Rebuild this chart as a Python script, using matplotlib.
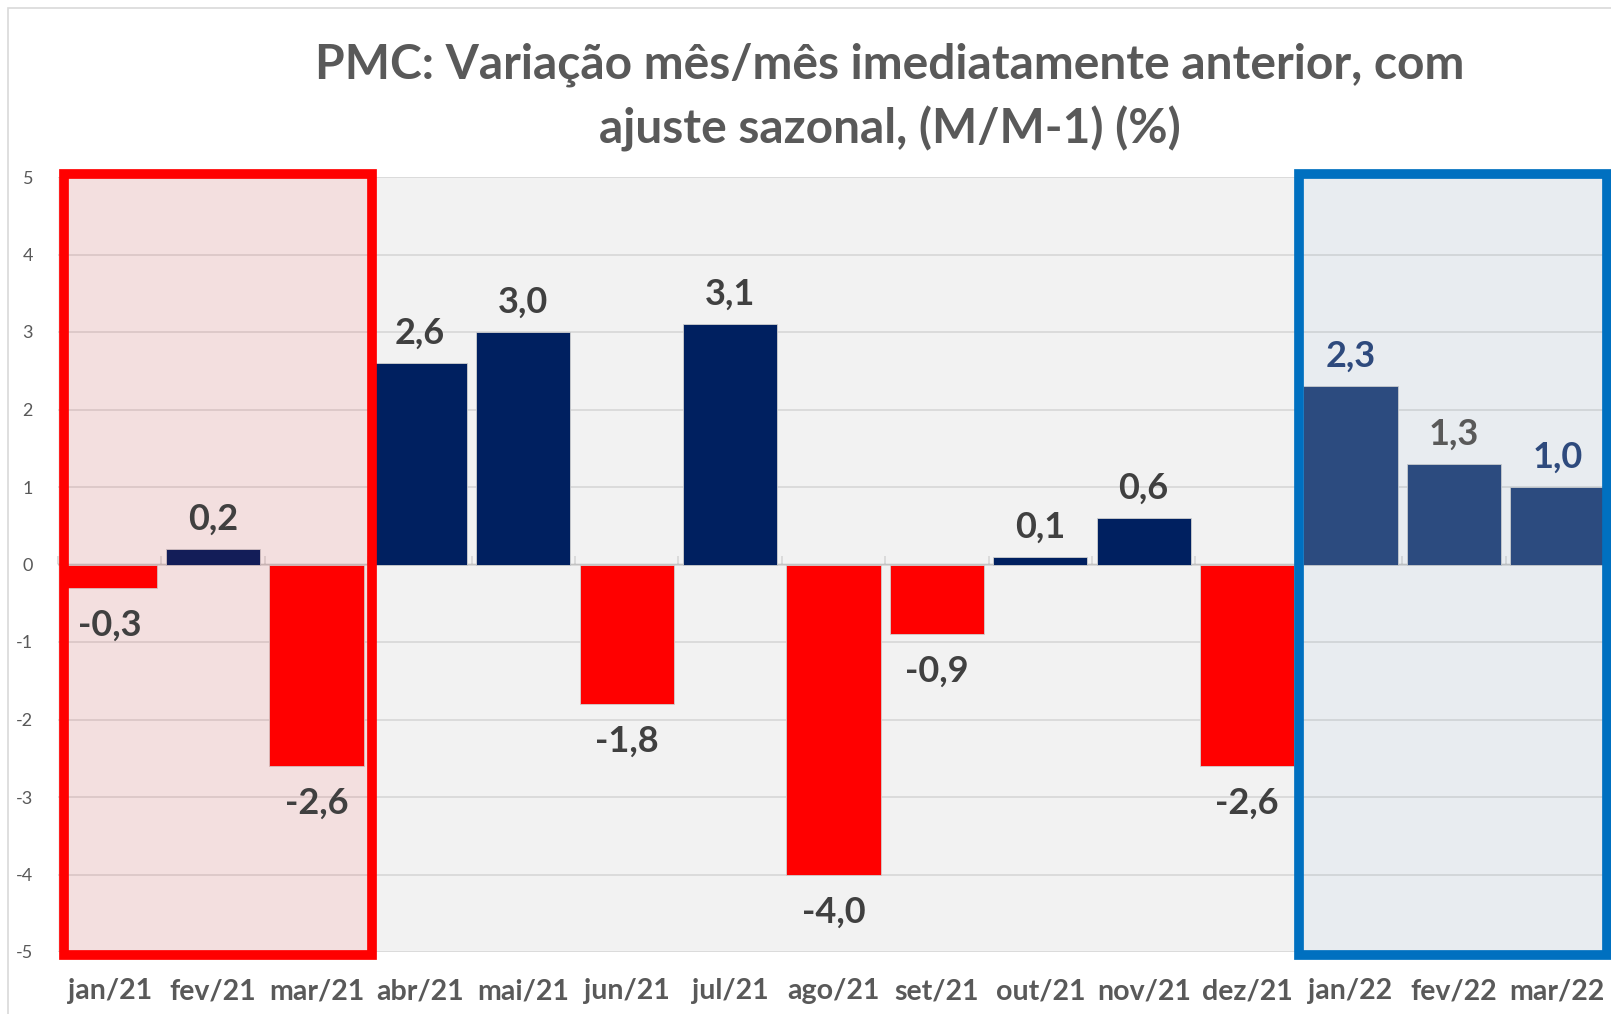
import numpy as np
import matplotlib.pyplot as plt
from matplotlib.patches import Rectangle

# Dados (PMC, variação M/M-1 com ajuste sazonal, %)
meses = ['jan/21', 'fev/21', 'mar/21', 'abr/21', 'mai/21', 'jun/21', 'jul/21', 'ago/21',
         'set/21', 'out/21', 'nov/21', 'dez/21', 'jan/22', 'fev/22', 'mar/22']
variacao = [-0.3, 0.2, -2.6, 2.6, 3.0, -1.8, 3.1, -4.0, -0.9, 0.1, 0.6, -2.6, 2.3, 1.3, 1.0]
destaque_2022 = ['jan/22', 'fev/22', 'mar/22']
yticks = [-5, -4, -3, -2, -1, 0, 1, 2, 3, 4, 5]

titulo = 'PMC: Variação mês/mês imediatamente anterior, com\najuste sazonal, (M/M-1) (%)'

plt.rcParams['font.family'] = ['Lato', 'DejaVu Sans']
plt.rcParams['axes.unicode_minus'] = False

# cores
VERMELHO = '#FF0000'
MARINHO = '#002060'
AZUL22 = '#2E4A7D'
CINZA_TXT = '#595959'
ROTULO = '#404040'

fig = plt.figure(figsize=(16.11, 10.14), dpi=100)
ax = fig.add_axes([58 / 1611, 62 / 1014, (1609 - 58) / 1611, 775 / 1014])
ax.set_facecolor('#F2F2F2')

x = np.arange(len(meses))
cores = []
for m, v in zip(meses, variacao):
    if v < 0:
        cores.append(VERMELHO)
    elif m in destaque_2022:
        cores.append(AZUL22)
    else:
        cores.append(MARINHO)

ax.bar(x, variacao, width=0.91, color=cores, edgecolor='#D0D0D0', linewidth=0.6, zorder=2)

# rótulos de dados
cor_rotulo = {'jan/22': AZUL22, 'fev/22': CINZA_TXT, 'mar/22': AZUL22}
for xi, m, v in zip(x, meses, variacao):
    txt = f'{v:.1f}'.replace('.', ',')
    c = cor_rotulo.get(m, ROTULO)
    if v >= 0:
        ax.annotate(txt, (xi, v), xytext=(0, 14), textcoords='offset points',
                    ha='center', va='baseline', fontsize=26, fontweight='bold', color=c, zorder=5)
    else:
        ax.annotate(txt, (xi, v), xytext=(0, -15), textcoords='offset points',
                    ha='center', va='top', fontsize=26, fontweight='bold', color=c, zorder=5)

ax.set_xlim(-0.5, len(meses) - 0.5)
ax.set_ylim(-5, 5)
ax.set_yticks(yticks)
ax.set_yticklabels([str(t) for t in yticks])
ax.set_xticks(x)
ax.set_xticklabels(meses, fontsize=20.5, fontweight='bold', color=CINZA_TXT)
ax.tick_params(axis='x', length=0, pad=19)
ax.tick_params(axis='y', length=0, pad=18, labelsize=13, labelcolor=CINZA_TXT)
ax.grid(axis='y', color='#D9D9D9', linewidth=1.3)
ax.set_axisbelow(True)
for s in ax.spines.values():
    s.set_visible(False)

# eixo de categorias em y=0 com marcas entre categorias
eixo0 = ax.secondary_xaxis(0.5)
eixo0.set_xticks(np.arange(len(meses) + 1) - 0.5)
eixo0.set_xticklabels([])
eixo0.tick_params(length=6, width=1.3, color='#D9D9D9', direction='out')
eixo0.spines['bottom'].set_color('#D9D9D9')
eixo0.spines['bottom'].set_linewidth(1.3)

# caixas de destaque
ax.add_patch(Rectangle((-0.44, -5.04), 2.98, 10.08, facecolor=(1, 0, 0, 0.08),
                       edgecolor=VERMELHO, linewidth=7, clip_on=False, zorder=4))
ax.add_patch(Rectangle((11.5, -5.04), 2.98, 10.08, facecolor=(0, 0.44, 0.75, 0.04),
                       edgecolor='#0070C0', linewidth=7, clip_on=False, zorder=4))

fig.text(890 / 1611, 1 - 97 / 1014, titulo, ha='center', va='center', fontsize=34.5,
         fontweight='bold', color=CINZA_TXT, linespacing=1.5)

# borda do gráfico
fig.add_artist(Rectangle((8 / 1611, -0.1), 1.2, 1 - 8 / 1014 + 0.1, transform=fig.transFigure,
                         fill=False, edgecolor='#D9D9D9', linewidth=1.2))

fig.savefig('out.png', dpi=100)
